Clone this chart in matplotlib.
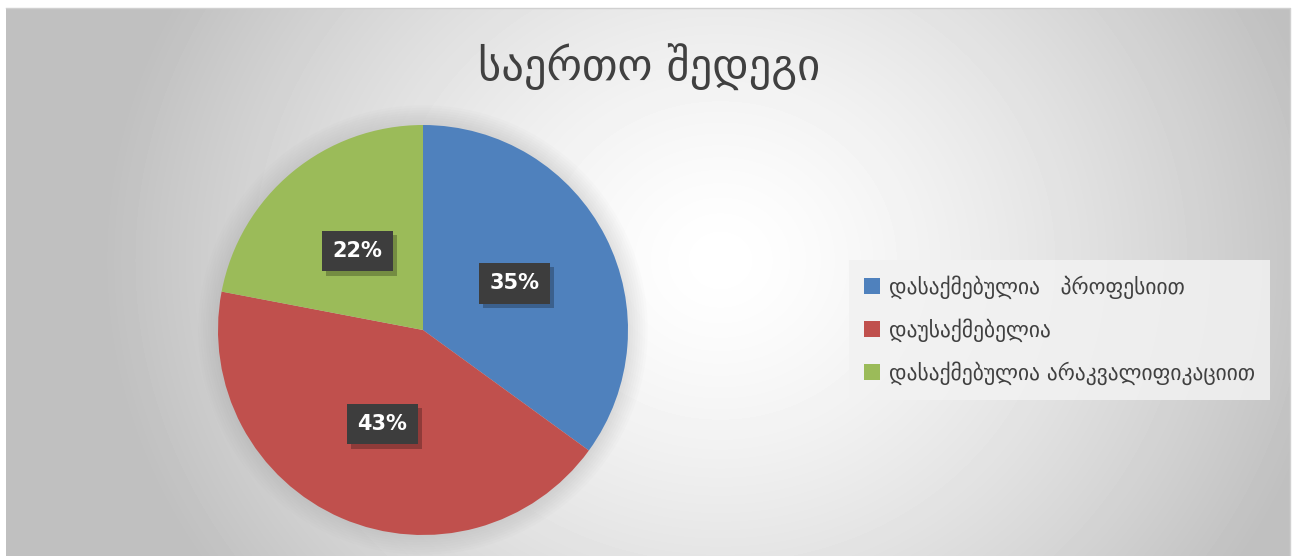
import matplotlib.pyplot as plt
import matplotlib.patheffects as pe
from matplotlib.patches import Circle
import numpy as np

title = "საერთო შედეგი"
labels = ["დასაქმებულია   პროფესიით", "დაუსაქმებელია", "დასაქმებულია არაკვალიფიკაციით"]
shares = [35, 43, 22]
colors = ["#4F81BD", "#C0504D", "#9BBB59"]

W, H = 1298, 556
fig = plt.figure(figsize=(W / 100, H / 100), dpi=100)
fig.patch.set_facecolor("white")

# background panel with soft radial gradient
bg = fig.add_axes([0, 0, 1, 1])
bg.set_xlim(0, W)
bg.set_ylim(H, 0)
bg.axis("off")
yy, xx = np.mgrid[8:H, 6:1290]
r = np.sqrt(((xx - 720) / 620.0) ** 2 + ((yy - 260) / 560.0) ** 2)
g = 1.0 - 0.25 * np.clip(r, 0, 1) ** 1.4
bg.imshow(g, cmap="gray", vmin=0, vmax=1, extent=(6, 1290, H, 8), aspect="auto")
bg.plot([6, 1290, 1290], [8, 8, H], color="#d0d0d0", lw=1)

fig.text(0.5, 0.878, title, ha="center", va="center", fontsize=32,
         color="#404040", family="DejaVu Sans")

ax = fig.add_axes([218 / W, (H - 535) / H, 410 / W, 410 / H])

# soft glow shadow around the pie
for k in range(8):
    ax.add_patch(Circle((0, 0), 1.0 + 0.012 * (k + 1), facecolor="#808080",
                        edgecolor="none", alpha=0.025, zorder=0, clip_on=False))

wedges, texts, autotexts = ax.pie(
    shares, colors=colors, startangle=90, counterclock=False,
    autopct="%1.0f%%", pctdistance=0.5, radius=1,
    wedgeprops=dict(linewidth=0, zorder=1),
)
ax.set_xlim(-1, 1)
ax.set_ylim(-1, 1)
ax.set_aspect("auto")

for t in autotexts:
    t.set_color("white")
    t.set_fontsize(15)
    t.set_fontweight("bold")
    t.set_bbox(dict(boxstyle="square,pad=0.5", facecolor="#3d3d3d", edgecolor="none"))
    t.get_bbox_patch().set_path_effects(
        [pe.SimplePatchShadow(offset=(3, -3), shadow_rgbFace="black", alpha=0.25), pe.Normal()]
    )

leg = fig.legend(
    wedges, labels, loc="center left", bbox_to_anchor=(838 / W, 1 - 330 / H),
    frameon=True, fontsize=15.5, handlelength=0.75, handleheight=0.75,
    handletextpad=0.4, labelspacing=0.9, borderpad=0.7, labelcolor="#404040",
    fancybox=False,
)
leg.get_frame().set_facecolor("#f2f2f2")
leg.get_frame().set_edgecolor("none")
leg.get_frame().set_alpha(0.85)

fig.savefig("out.png", dpi=100)
